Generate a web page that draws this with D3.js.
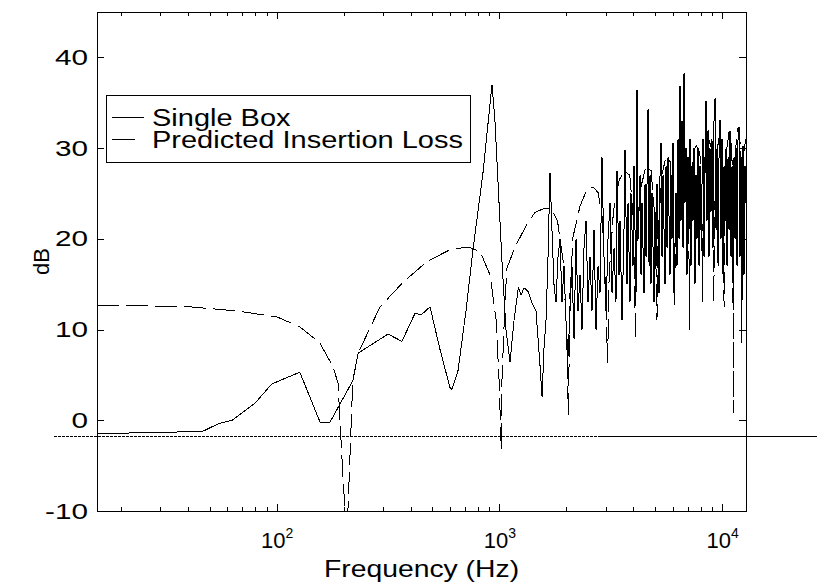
<!DOCTYPE html>
<html>
<head>
<meta charset="utf-8">
<script src="https://cdn.jsdelivr.net/npm/d3@7"></script>
<style>
  body { margin: 0; background: #fff; }
  svg { display: block; font-family: "Liberation Sans", Arial, sans-serif; }
</style>
</head>
<body>
<svg id="chart" width="817" height="582"></svg>
<script>
// measured single box response, [frequency Hz, dB]
const singleBox = [
  [15.6,-1.5],[21.9,-1.4],[35,-1.3],[46.7,-1.2],[54.5,-0.4],[63,0],[80,1.9],[95,4.0],[127,5.3],
  [156.5,-0.2],[173.5,-0.2],[192.5,1.8],[220,4.4],[232,7.4],[316,9.5],[365,8.7],[418,11.8],
  [444.5,11.6],[488,12.5],[541,7.8],[600,3.6],[612,3.4],[652,5.5],[708,12.1],[761,18.8],
  [844,27.3],[926,37],[955,33],[996,24],[1027,17.5],[1070,10],[1116,6.4],[1163,11],[1217,14.7],
  [1250,13.8],[1290,14.6],[1344,14.2],[1401,12.9],[1460,12],[1522,6],[1554,2.6],[1586,8],
  [1619,11],[1653,18],[1687,27.3],[1722,21],[1758,15],[1795,13],[1833,18],[1871,20],[1910,13],
  [1950,17],[1990,11],[2032,7],[2075,12],[2118,17],[2163,9],[2208,20],[2254,12],[2301,16],
  [2349,10],[2398,19],[2448,22],[2500,13],[2551,18],[2604,12],[2659,21],[2715,10],[2772,17],
  [2829,14],[2888,29],[2949,18],[3011,12],[3074,20],[3138,24],[3204,14],[3271,19],[3338,13],
  [3373,27.5],[3444,16],[3479,22],[3552,11],[3626,21],[3664,29.8],[3741,15],[3780,24],[3858,13],
  [3898,25],[3980,17],[4021,28],[4105,14],[4148,36.4],[4191,20],[4279,27],[4324,16],[4368,24],
  [4460,14],[4506,26],[4553,18],[4648,34.3],[4697,17],[4745,27],[4794,15],[4844,25],[4946,13],
  [4997,23],[5049,17],[5101,26],[5208,14],[5262,27],[5317,30.6],[5372,18],[5428,27],[5541,15],
  [5599,28],[5657,19],[5716,29],[5834,16],[5895,27],[5956,20],[6018,30.6],[6081,14],[6208,25],
  [6272,17],[6338,31],[6404,20],[6470,36.8],[6537,22],[6605,33],[6675,19],[6744,38.3],[6813,24],
  [6884,30],[6955,16],[7028,29],[7101,21],[7174,31],[7249,17],[7324,28],[7401,22],[7478,30],
  [7555,15],[7634,27],[7713,20],[7794,30],[7875,17],[7956,28],[8039,21],[8207,31],[8293,18],
  [8378,29],[8465,35.2],[8553,22],[8643,32],[8732,18],[8822,30],[8914,23],[9006,31],[9101,19],
  [9195,33],[9292,35.5],[9389,21],[9486,30],[9586,17],[9685,29],[9784,33.1],[9886,20],[9988,31],
  [10093,16],[10198,28],[10304,22],[10411,30],[10519,17],[10630,29],[10740,21],[10850,31.9],
  [10963,18],[11077,28],[11193,15],[11309,29],[11426,20],[11545,30],[11665,17],[11787,31],
  [11909,32.3],[12031,18],[12156,29],[12282,13],[12411,30.2],[12540,16],[12670,28],[12800,24]
];

// predicted insertion loss, [frequency Hz, dB]
const predicted = [
  [15.6,12.6],[27,12.6],[41,12.5],[66,12.05],[100,11.4],[127,10.3],[156,8.55],[179,5.9],
  [188.5,4.1],[196.5,-4.3],[202.6,-10],[205.7,-14],[208.8,-10],[213,-4.4],[219.6,4.4],[232,7.4],
  [291,12.5],[369,15.2],[473,17.5],[600,18.8],[723,19.1],[820,18.6],[908,16.0],[966,11.1],
  [996,4.5],[1020,-3.3],[1027,4.5],[1060,13.3],[1082,16.8],[1175,19.1],[1342,21.8],[1445,22.9],
  [1602,23.4],[1720,23.2],[1825,21.9],[1930,17.7],[2000,10],[2040,0.6],[2075,14],[2140,20.2],
  [2301,23.6],[2466,25.4],[2637,25.7],[2772,25.1],[2886,22.7],[2990,15],[3060,6.3],[3110,16],
  [3250,23],[3450,26.5],[3650,27.5],[3850,27],[4000,22],[4080,8.9],[4130,19],[4300,25.5],
  [4550,28],[4800,27.5],[5000,22],[5100,11.1],[5150,20],[5350,27],[5600,29],[5850,28.5],
  [6050,22],[6120,12.7],[6170,21],[6400,28],[6650,30],[6900,29],[7080,22],[7140,10],[7190,21],
  [7400,28.5],[7650,30.3],[7950,29.5],[8100,22],[8160,13],[8210,22],[8450,29],[8700,31],
  [8950,30],[9120,23],[9180,13],[9230,22],[9450,29.5],[9750,31.5],[10000,30.5],[10140,23],
  [10200,12.5],[10250,22],[10500,30],[10750,31.8],[11050,30.5],[11170,22],[11220,0.8],
  [11270,20],[11500,30],[11800,32.3],[12050,30.5],[12190,22],[12240,8.5],[12290,21],
  [12550,30],[12800,31]
];

const yTicks = [-10, 0, 10, 20, 30, 40];
const xMajor = [100, 1000, 10000];
const xExponents = ["2", "3", "4"];
const xMinor = [20, 30, 40, 50, 60, 70, 80, 90, 200, 300, 400, 500, 600, 700, 800, 900,
                2000, 3000, 4000, 5000, 6000, 7000, 8000, 9000];
const legendLabels = ["Single Box", "Predicted Insertion Loss"];
// stray horizontal trace across the figure
const refLevel = -1.8;
const refDashed = [10, 2800];
const refSolid = [2800, 30000];

const W = 817, H = 582;
const margin = { top: 12, right: 71, bottom: 71, left: 97 };
const svg = d3.select("#chart");

const x = d3.scaleLog().domain([15.6, 12800]).range([margin.left, W - margin.right]);
const y = d3.scaleLinear().domain([-10, 45]).range([H - margin.bottom, margin.top]);

// stretch text horizontally to match the wide glyphs of the original
function stretch(sel, factor) {
  sel.each(function () {
    const w = this.getComputedTextLength();
    d3.select(this).attr("textLength", w * factor).attr("lengthAdjust", "spacingAndGlyphs");
  });
}

svg.append("defs").append("clipPath").attr("id", "plotclip")
  .append("rect")
  .attr("x", x.range()[0]).attr("y", y.range()[1])
  .attr("width", x.range()[1] - x.range()[0])
  .attr("height", y.range()[0] - y.range()[1]);

// axes box
svg.append("rect")
  .attr("x", x.range()[0] + 0.5).attr("y", y.range()[1] + 0.5)
  .attr("width", x.range()[1] - x.range()[0])
  .attr("height", y.range()[0] - y.range()[1])
  .attr("fill", "none").attr("stroke", "#000").attr("shape-rendering", "crispEdges");

function styleAxis(g) {
  g.select(".domain").remove();
  g.selectAll("line").attr("stroke", "#000").attr("shape-rendering", "crispEdges");
  g.selectAll("text").attr("fill", "#000");
}

const bottom = svg.append("g").attr("transform", `translate(0,${y.range()[0]})`)
  .call(d3.axisBottom(x).tickValues(xMajor).tickSize(-7).tickPadding(21))
  .call(styleAxis);
bottom.selectAll("text")
  .attr("font-size", 22)
  .text("")
  .each(function (d, i) {
    const t = d3.select(this);
    t.append("tspan").text("10");
    t.append("tspan").attr("font-size", 14).attr("dy", -10).text(xExponents[i]);
  });

svg.append("g").attr("transform", `translate(0,${y.range()[0]})`)
  .call(d3.axisBottom(x).tickValues(xMinor).tickSize(-4).tickFormat(""))
  .call(styleAxis);
svg.append("g").attr("transform", `translate(0,${y.range()[1]})`)
  .call(d3.axisTop(x).tickValues(xMajor).tickSize(-7).tickFormat(""))
  .call(styleAxis);
svg.append("g").attr("transform", `translate(0,${y.range()[1]})`)
  .call(d3.axisTop(x).tickValues(xMinor).tickSize(-4).tickFormat(""))
  .call(styleAxis);

// plain hyphen for negatives, as in the original
const left = svg.append("g").attr("transform", `translate(${x.range()[0]},0)`)
  .call(d3.axisLeft(y).tickValues(yTicks).tickSize(-7).tickPadding(9).tickFormat(d => String(d)))
  .call(styleAxis);
left.selectAll("text").attr("font-size", 22).call(stretch, 1.35);

svg.append("g").attr("transform", `translate(${x.range()[1]},0)`)
  .call(d3.axisRight(y).tickValues(yTicks).tickSize(-7).tickFormat(""))
  .call(styleAxis);

// axis titles
svg.append("text")
  .attr("x", (x.range()[0] + x.range()[1]) / 2).attr("y", 577)
  .attr("text-anchor", "middle").attr("font-size", 24)
  .text("Frequency (Hz)")
  .call(stretch, 1.18);

svg.append("text")
  .attr("transform", `translate(49,${(y.range()[0] + y.range()[1]) / 2}) rotate(-90)`)
  .attr("text-anchor", "middle").attr("font-size", 22)
  .text("dB");

// stray reference trace
const refLine = d3.line().x(d => x(d)).y(() => y(refLevel));
svg.append("path").datum(refDashed).attr("d", refLine)
  .attr("stroke", "#000").attr("stroke-dasharray", "3,1").attr("fill", "none")
  .attr("shape-rendering", "crispEdges");
svg.append("path").datum(refSolid).attr("d", refLine)
  .attr("stroke", "#000").attr("fill", "none").attr("shape-rendering", "crispEdges");

// data lines
const line = d3.line().x(d => x(d[0])).y(d => y(d[1]));
const plot = svg.append("g").attr("clip-path", "url(#plotclip)");

plot.append("path").datum(singleBox).attr("d", line)
  .attr("fill", "none").attr("stroke", "#000").attr("stroke-width", 1)
  .attr("shape-rendering", "crispEdges");

plot.append("path").datum(predicted).attr("d", line)
  .attr("fill", "none").attr("stroke", "#000").attr("stroke-width", 1)
  .attr("stroke-dasharray", "22,7")
  .attr("shape-rendering", "crispEdges");

// legend
const legend = svg.append("g");
legend.append("rect")
  .attr("x", 106.5).attr("y", 95.5).attr("width", 364).attr("height", 67)
  .attr("fill", "#fff").attr("stroke", "#000").attr("shape-rendering", "crispEdges");
legendLabels.forEach((lab, i) => {
  const ly = 117 + i * 22;
  legend.append("line")
    .attr("x1", 112).attr("x2", 144).attr("y1", ly + 0.5).attr("y2", ly + 0.5)
    .attr("stroke", "#000")
    .attr("stroke-dasharray", i === 1 ? "23,9" : null)
    .attr("shape-rendering", "crispEdges");
  legend.append("text")
    .attr("x", 152).attr("y", ly + 9)
    .attr("font-size", 23).attr("fill", "#000")
    .text(lab)
    .call(stretch, 1.26);
});
</script>
</body>
</html>
